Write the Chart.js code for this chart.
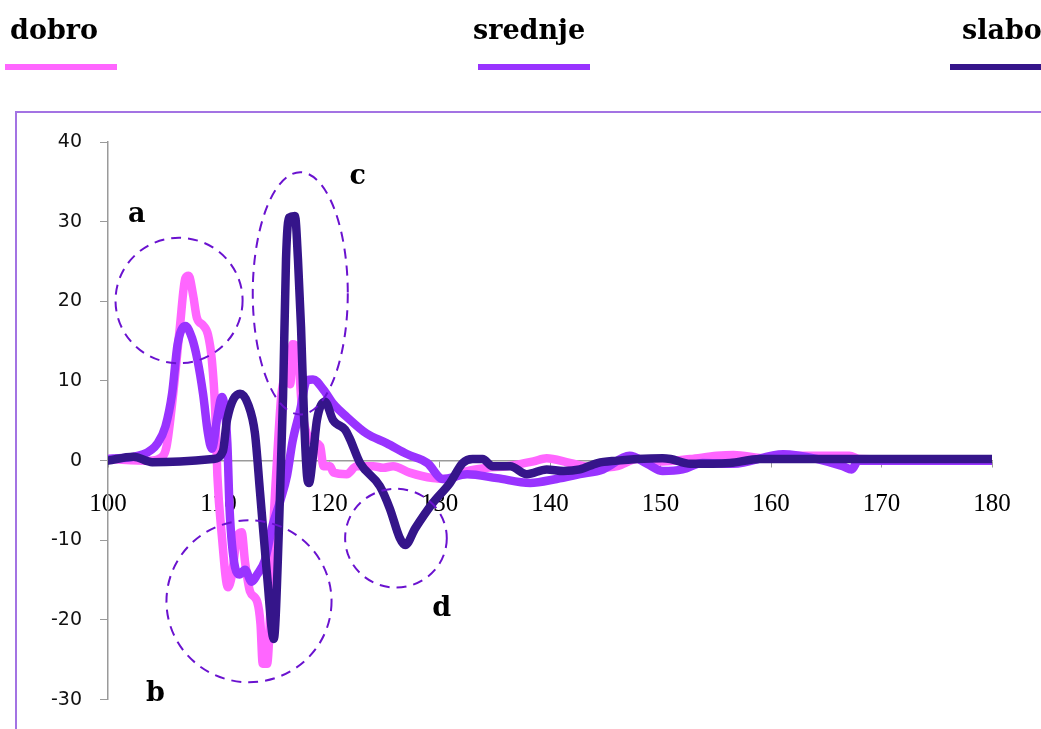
<!DOCTYPE html>
<html>
<head>
<meta charset="utf-8">
<script src="https://cdn.jsdelivr.net/npm/chart.js@4"></script>
<style>
  html, body { margin: 0; padding: 0; background: #fff; overflow: hidden; }
  #wrap { position: relative; width: 1041px; height: 729px; overflow: hidden; }
  #frame { position: absolute; left: 15px; top: 111px; width: 1100px; height: 700px; border: 2px solid #a373e3; }
  .lg { position: absolute; top: 14px; font-family: "DejaVu Serif"; font-weight: bold; font-size: 27px; color: #000; white-space: nowrap; }
  .sw { position: absolute; top: 64px; height: 6px; width: 112px; }
  canvas { position: absolute; left: 0; top: 0; }
</style>
</head>
<body>
<div id="wrap">
  <div id="frame"></div>
  <canvas id="chart" width="1041" height="729"></canvas>
</div>
<script>
// series names and colours
const seriesNames = ['dobro', 'srednje', 'slabo'];
const seriesColors = ['#ff66ff', '#9933ff', '#35158a'];

// dobro
const dobroX = [100, 103.8, 104.7, 105.3, 105.9, 106.5, 107.0, 107.3, 107.7, 108.05, 108.6, 109.05, 109.4, 109.7, 109.9, 110.3, 110.85, 111.2, 111.7, 112.1, 112.4, 112.85, 113.5, 113.8, 114.0, 114.4, 114.7, 114.9, 115.3, 115.7, 116.2, 116.5, 116.7, 117.1, 117.6, 118.4, 119.2, 119.5, 120.1, 120.4, 121.6, 122.5, 124.0, 124.9, 125.8, 127.3, 129.4, 130.7, 132.5, 134.3, 136.1, 138.5, 139.7, 141.8, 144.3, 146.1, 147.9, 150.2, 152.7, 155.1, 156.6, 159.6, 162.6, 167.1, 168, 180];
const dobroY = [0.2, 0, 0.3, 1.8, 8.4, 16.7, 22.9, 23.2, 20.8, 17.9, 17.0, 15.8, 12.6, 6.4, -1.9, -9.4, -15.9, -14.5, -9.5, -9.0, -12.7, -16.4, -17.7, -20.5, -25.5, -25.5, -18.4, -10.2, 0.2, 8.4, 10.5, 9.6, 14.6, 14.2, 6.0, 2.5, 1.8, -0.7, -0.7, -1.5, -1.7, -0.7, -0.7, -0.9, -0.7, -1.5, -2.2, -2.3, -1.3, -0.9, -0.7, -0.1, 0.3, -0.3, -0.9, -0.7, 0.2, -0.1, 0.2, 0.6, 0.7, 0.3, 0.6, 0.6, 0.2, 0];

// srednje
const srednjeX = [100, 103.2, 104.5, 105.2, 105.8, 106.3, 107.0, 107.6, 108.1, 108.6, 109.05, 109.4, 109.9, 110.3, 110.8, 111.0, 111.5, 111.9, 112.4, 113.0, 113.5, 114.2, 114.9, 115.6, 116.2, 116.7, 117.4, 118.0, 118.55, 119.5, 120.4, 121.6, 123.4, 125.2, 127.1, 128.9, 130.3, 132.5, 135.2, 138.2, 140.6, 142.7, 144.8, 147.2, 148.8, 150.2, 152.0, 153.8, 156.6, 161.1, 164.2, 166.5, 167.3, 167.9, 180];
const srednjeY = [0.2, 0.8, 2.2, 4.3, 8.4, 14.6, 16.9, 15.4, 12.6, 8.4, 3.4, 1.5, 5.5, 8.0, 2.2, -6.0, -13.4, -14.3, -13.7, -15.2, -14.3, -12.5, -8.1, -5.0, -1.9, 2.4, 6.4, 10.1, 10.2, 8.9, 7.1, 5.5, 3.4, 2.2, 0.8, -0.3, -2.3, -1.7, -2.2, -2.8, -2.3, -1.7, -1.1, 0.6, -0.4, -1.3, -1.1, -0.3, -0.4, 0.8, 0.2, -0.7, -1.1, 0, 0];

// slabo
const slaboX = [100, 102.3, 104, 109.5, 110.4, 110.77, 111.95, 112.67, 113.3, 113.76, 114.39, 115.0, 115.48, 115.84, 116.11, 116.38, 116.92, 117.19, 117.47, 117.74, 118.01, 118.19, 118.55, 118.91, 119.64, 120.36, 120.72, 121.45, 121.9, 122.81, 124.6, 125.5, 126.4, 126.9, 127.8, 129.4, 130.95, 132.1, 133.0, 133.9, 134.8, 136.4, 137.9, 139.7, 141.2, 142.7, 144.3, 146.1, 147.9, 150.2, 150.9, 152.7, 154.75, 156.3, 159.0, 167.8, 180];
const slaboY = [0, 0.5, -0.2, 0.2, 1.2, 5.1, 8.4, 7.1, 3.4, -4.0, -14.3, -22.4, -8.1, 8.0, 25.3, 30.5, 30.7, 25.3, 16.7, 5.5, -1.9, -2.8, 0.6, 5.1, 7.4, 5.1, 4.6, 3.9, 2.7, -0.3, -3.2, -6.0, -9.7, -10.6, -8.5, -5.3, -2.8, -0.3, 0.2, 0.2, -0.7, -0.7, -1.7, -1.1, -1.3, -1.1, -0.3, 0, 0.2, 0.3, 0.2, -0.4, -0.4, -0.3, 0.2, 0.2, 0.2];

// dashed rings round regions a-d (centre and radii in axis units)
const ringX = [106.43, 112.76, 117.4, 126.06];
const ringY = [20.1, -17.66, 21.0, -9.73];
const ringRX = [5.75, 7.47, 4.3, 4.6];
const ringRY = [7.87, 10.16, 15.2, 6.2];

// letters next to the rings
const noteText = ['a', 'b', 'c', 'd'];
const noteX = [102.6, 104.3, 122.6, 130.2];
const noteY = [30.0, -30.2, 34.7, -19.5];

const xTickMin = 100, xTickMax = 180, xStep = 10;
const yTickMin = -30, yTickMax = 40, yStep = 10;

// legend above the frame
const legendLeft = [10, 473, 962];
const swatchLeft = [5, 478, 950];
const wrap = document.getElementById('wrap');
seriesNames.forEach((name, i) => {
  const t = document.createElement('div');
  t.className = 'lg';
  t.style.left = legendLeft[i] + 'px';
  t.textContent = name;
  wrap.appendChild(t);
  const s = document.createElement('div');
  s.className = 'sw';
  s.style.left = swatchLeft[i] + 'px';
  s.style.background = seriesColors[i];
  wrap.appendChild(s);
});

function pts(xs, ys) {
  return xs.map((x, i) => ({ x: x, y: ys[i] }));
}

const ringsPlugin = {
  id: 'rings',
  afterDatasetsDraw(chart) {
    const ctx = chart.ctx;
    const xs = chart.scales.x, ys = chart.scales.y;
    ctx.save();
    ctx.strokeStyle = '#6a12cf';
    ctx.lineWidth = 2;
    ctx.setLineDash([10, 7]);
    ringX.forEach((x, i) => {
      const cx = xs.getPixelForValue(x);
      const cy = ys.getPixelForValue(ringY[i]);
      const rx = Math.abs(xs.getPixelForValue(x + ringRX[i]) - cx);
      const ry = Math.abs(ys.getPixelForValue(ringY[i] + ringRY[i]) - cy);
      ctx.beginPath();
      ctx.ellipse(cx, cy, rx, ry, 0, 0, Math.PI * 2);
      ctx.stroke();
    });
    ctx.setLineDash([]);
    ctx.fillStyle = '#000';
    ctx.font = 'bold 27px "DejaVu Serif"';
    ctx.textAlign = 'center';
    ctx.textBaseline = 'alphabetic';
    noteText.forEach((t, i) => {
      ctx.fillText(t, xs.getPixelForValue(noteX[i]), ys.getPixelForValue(noteY[i]));
    });
    ctx.restore();
  }
};

const lineStyle = {
  borderWidth: 8.5,
  pointRadius: 0,
  borderCapStyle: 'round',
  borderJoinStyle: 'round',
  cubicInterpolationMode: 'monotone',
  fill: false
};

new Chart(document.getElementById('chart'), {
  type: 'line',
  data: {
    datasets: [
      Object.assign({ label: seriesNames[0], data: pts(dobroX, dobroY), borderColor: seriesColors[0], order: 3 }, lineStyle),
      Object.assign({ label: seriesNames[1], data: pts(srednjeX, srednjeY), borderColor: seriesColors[1], order: 2 }, lineStyle),
      Object.assign({ label: seriesNames[2], data: pts(slaboX, slaboY), borderColor: seriesColors[2], order: 1 }, lineStyle)
    ]
  },
  options: {
    responsive: false,
    animation: false,
    layout: { padding: { left: 0, top: 142, right: 49, bottom: 22 } },
    plugins: {
      legend: { display: false },
      tooltip: { enabled: false }
    },
    scales: {
      x: {
        type: 'linear',
        position: { y: 0 },
        min: xTickMin,
        max: xTickMax,
        border: { color: '#9a9a9a', width: 1.5 },
        grid: { drawOnChartArea: false, tickLength: 6, color: '#9a9a9a' },
        ticks: {
          stepSize: xStep,
          padding: 23,
          color: '#000',
          maxRotation: 0,
          font: { family: '"Liberation Serif"', size: 25 }
        }
      },
      y: {
        min: yTickMin,
        max: yTickMax,
        border: { color: '#9a9a9a', width: 1.5 },
        grid: { drawOnChartArea: false, tickLength: 8, color: '#9a9a9a' },
        ticks: {
          stepSize: yStep,
          padding: 18,
          color: '#111',
          font: { family: '"DejaVu Sans"', size: 19 }
        },
        afterFit(scale) { scale.width = 108; }
      }
    }
  },
  plugins: [ringsPlugin]
});
</script>
</body>
</html>
